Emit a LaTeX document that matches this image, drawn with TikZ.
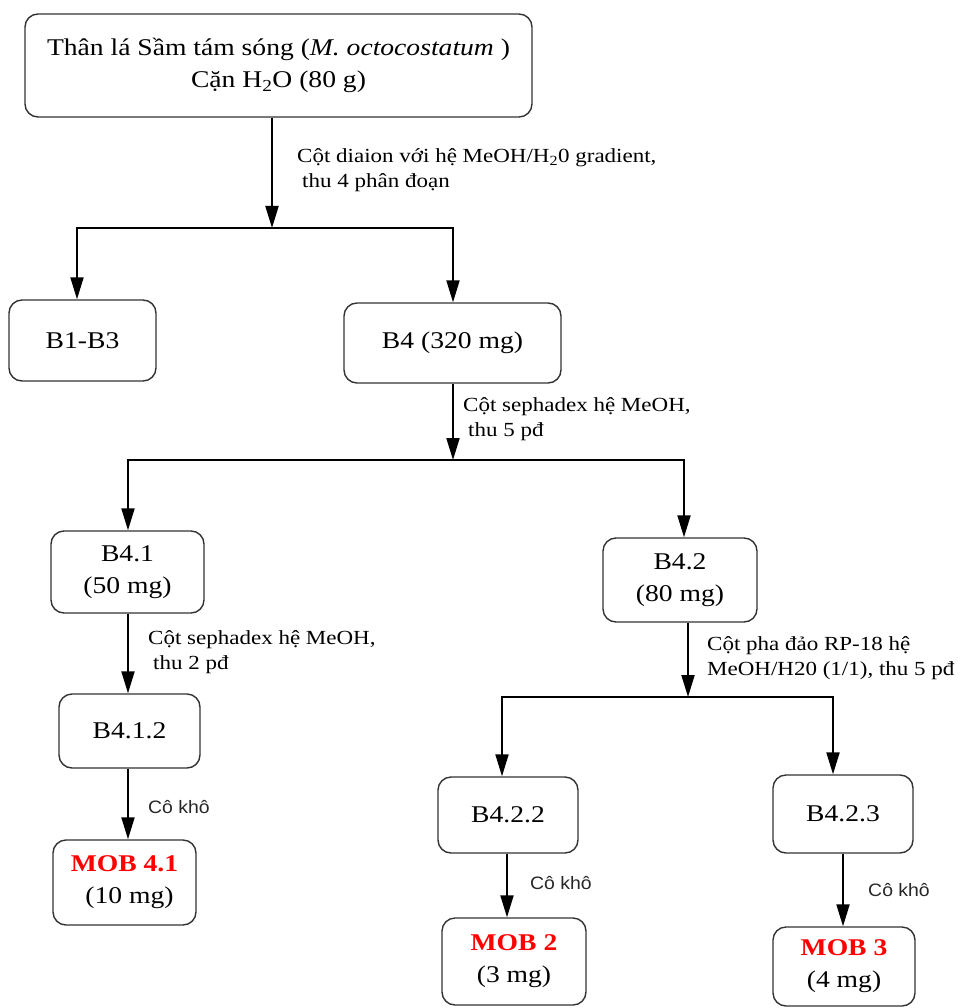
\documentclass[tikz,border=0pt]{standalone}
\usepackage{fontspec}
\setmainfont{Liberation Serif}[FakeStretch=1.15]
\newfontfamily\drysans{Liberation Sans}[FakeStretch=1.08]
\usetikzlibrary{arrows.meta}
\tikzset{
  box/.style={draw=black!80, line width=1.4pt, rounded corners=13pt, inner sep=0pt,
    align=center, font=\fontsize{24}{32}\selectfont},
  lbl/.style={inner sep=0pt, align=left, font=\fontsize{20}{25}\selectfont, anchor=west},
  dry/.style={inner sep=0pt, anchor=west, text=black!85, font=\drysans\fontsize{18}{22}\selectfont},
  conn/.style={line width=2pt, black},
  arr/.style={conn, -{Triangle[length=22pt,width=13pt]}},
}
\newcommand{\res}[1]{\textcolor{red}{\textbf{#1}}}
\begin{document}
\begin{tikzpicture}[x=1pt,y=-1pt]
\useasboundingbox (0,0) rectangle (959,1008);

% boxes
\node[box, minimum width=507pt, minimum height=103pt] (top) at (278.5,65.5)
  {Thân lá Sầm tám sóng (\textit{M. octocostatum} )\\Cặn H\textsubscript{2}O (80 g)};
\node[box, minimum width=147pt, minimum height=81pt] (b13) at (82.5,340.5) {B1-B3};
\node[box, minimum width=217pt, minimum height=80pt] (b4) at (452.5,343) {B4 (320 mg)};
\node[box, minimum width=153pt, minimum height=82pt] (b41) at (127.5,572) {B4.1\\(50 mg)};
\node[box, minimum width=154pt, minimum height=84pt] (b42) at (680,580) {B4.2\\(80 mg)};
\node[box, minimum width=141pt, minimum height=74pt] (b412) at (129.5,731) {B4.1.2};
\node[box, minimum width=143pt, minimum height=85pt] (mob41) at (124.5,882.5)
  {\res{MOB 4.1}\\\hspace*{10pt}(10 mg)};
\node[box, minimum width=140pt, minimum height=76pt] (b422) at (508,815) {B4.2.2};
\node[box, minimum width=140pt, minimum height=78pt] (b423) at (843,814) {B4.2.3};
\node[box, minimum width=144pt, minimum height=87pt] (mob2) at (514,961.5)
  {\res{MOB 2}\\(3 mg)};
\node[box, minimum width=142pt, minimum height=79pt] (mob3) at (844,966.5)
  {\res{MOB 3}\\(4 mg)};

% junction coordinates
\coordinate (j1) at (272,228);
\coordinate (j1l) at (77,228);
\coordinate (j1r) at (453,228);
\coordinate (j2) at (453,460);
\coordinate (j2l) at (128,460);
\coordinate (j2r) at (684,460);
\coordinate (j3) at (688,697);
\coordinate (j3l) at (502,697);
\coordinate (j3r) at (833,697);
\coordinate (x412) at (128,0);
\coordinate (x422) at (507,0);
\coordinate (x423) at (843,0);

% connectors
\draw[arr] (top.south -| j1) -- (j1);
\draw[arr] (j1) -| (j1l |- b13.north);
\draw[arr] (j1) -| (j1r |- b4.north);
\draw[arr] (b4.south -| j2) -- (j2);
\draw[arr] (j2) -| (j2l |- b41.north);
\draw[arr] (j2) -| (j2r |- b42.north);
\draw[arr] (b41.south -| x412) -- (b412.north -| x412);
\draw[arr] (b412.south -| x412) -- (mob41.north -| x412);
\draw[arr] (b42.south -| j3) -- (j3);
\draw[arr] (j3) -| (j3l |- b422.north);
\draw[arr] (j3) -| (j3r |- b423.north);
\draw[arr] (b422.south -| x422) -- (mob2.north -| x422);
\draw[arr] (b423.south -| x423) -- (mob3.north -| x423);

% labels
\node[lbl] (l1) at (297,170.5) {Cột diaion với hệ MeOH/H\textsubscript{2}0 gradient,\\\hspace*{5pt}thu 4 phân đoạn};
\node[lbl] (l2) at (463,419) {Cột sephadex hệ MeOH,\\\hspace*{5pt}thu 5 pđ};
\node[lbl] (l3) at (148,652) {Cột sephadex hệ MeOH,\\\hspace*{5pt}thu 2 pđ};
\node[lbl] (l4) at (707,658) {Cột pha đảo RP-18 hệ\\MeOH/H20 (1/1), thu 5 pđ};
\node[dry] (d1) at (148,807) {Cô khô};
\node[dry] (d2) at (530,883) {Cô khô};
\node[dry] (d3) at (868,890) {Cô khô};
\end{tikzpicture}
\end{document}
